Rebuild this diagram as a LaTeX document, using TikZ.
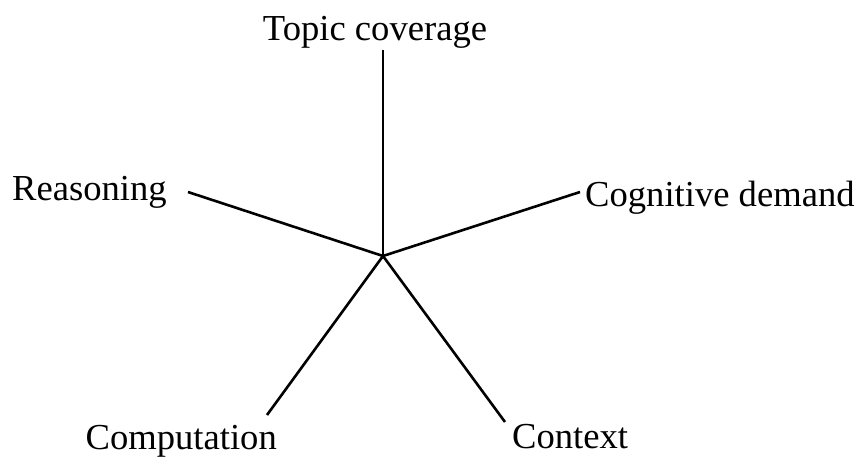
\documentclass[tikz,border=0pt]{standalone}
\usepackage{fontspec}
\setmainfont{Liberation Serif}
\begin{document}
\begin{tikzpicture}[x=1pt,y=-1pt,
  spoke/.style={line width=2.6pt,line cap=butt},
  lbl/.style={inner sep=0pt,font=\fontsize{36.6}{40}\selectfont}]
\useasboundingbox (0,0) rectangle (860,456);
\coordinate (c) at (383,256);
\coordinate (eT) at (383,50);
\coordinate (eR) at (580,192);
\coordinate (eL) at (188,192);
\coordinate (eCo) at (267,415);
\coordinate (eCx) at (505,422);
\node[lbl,anchor=base] (topic) at (375,40) {Topic coverage};
\node[lbl,anchor=base west] (reas) at (12,200) {Reasoning};
\node[lbl,anchor=base west] (cog) at (585,206) {Cognitive demand};
\node[lbl,anchor=base east] (comp) at (277,449) {Computation};
\node[lbl,anchor=base west] (ctx) at (512,448) {Context};
\draw[spoke] (c) -- (eT);
\draw[spoke] (c) -- (eR);
\draw[spoke] (c) -- (eL);
\draw[spoke] (c) -- (eCo);
\draw[spoke] (c) -- (eCx);
\end{tikzpicture}
\end{document}
